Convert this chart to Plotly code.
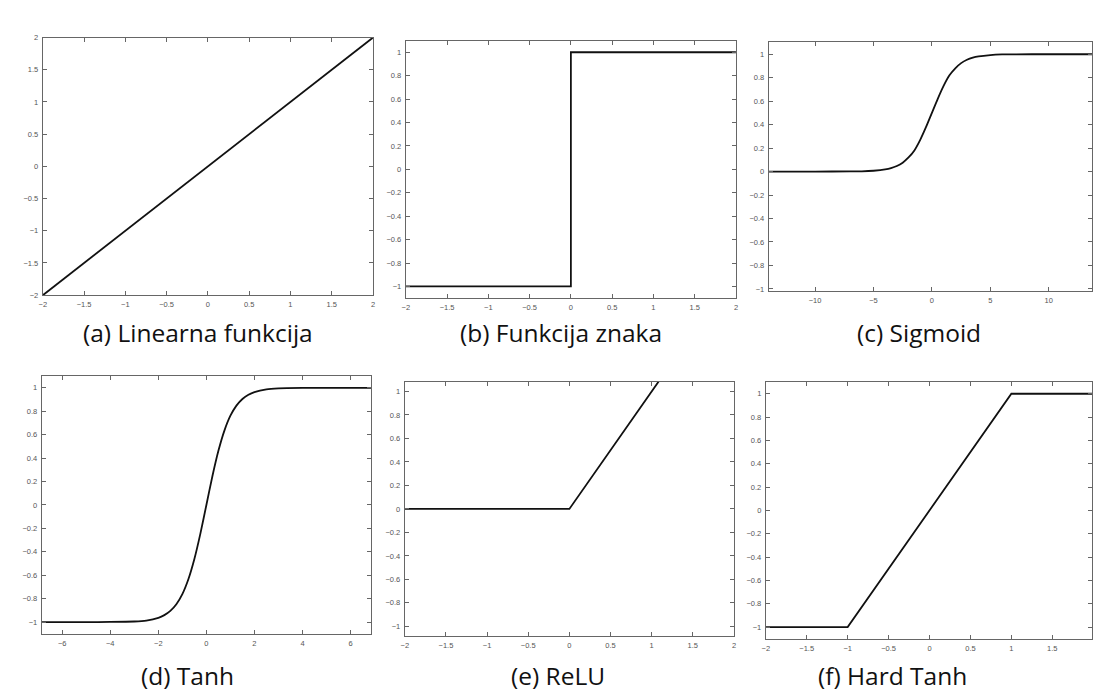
import plotly.graph_objects as go

W, H = 1094, 698

# ---------------- data ----------------
lin_x = [-2, 2]
lin_y = [-2, 2]

sign_x = [-2, 0, 0, 2]
sign_y = [-1, -1, 1, 1]

sig_x = [-14, -10, -7, -6, -5, -4, -3.5, -3, -2.5, -2, -1.5, -1, -0.5, 0, 0.5, 1, 1.5, 2, 2.5, 3, 3.5, 4, 5, 6, 7, 10, 14]
sig_y = [0, 0, 0.001, 0.002, 0.007, 0.018, 0.029, 0.047, 0.076, 0.12, 0.18, 0.27, 0.38, 0.5, 0.62, 0.73, 0.82, 0.88, 0.924, 0.953, 0.971, 0.982, 0.993, 0.998, 0.999, 1, 1]

tanh_x = [-7, -5, -4, -3, -2.5, -2, -1.75, -1.5, -1.25, -1, -0.75, -0.5, -0.25, 0, 0.25, 0.5, 0.75, 1, 1.25, 1.5, 1.75, 2, 2.5, 3, 4, 5, 7]
tanh_y = [-1, -1, -0.999, -0.995, -0.987, -0.964, -0.941, -0.905, -0.848, -0.762, -0.635, -0.462, -0.245, 0, 0.245, 0.462, 0.635, 0.762, 0.848, 0.905, 0.941, 0.964, 0.987, 0.995, 0.999, 1, 1]

relu_x = [-2, 0, 2]
relu_y = [0, 0, 2]

htanh_x = [-2, -1, 1, 2]
htanh_y = [-1, -1, 1, 1]

captions = ["(a) Linearna funkcija", "(b) Funkcija znaka", "(c) Sigmoid",
            "(d) Tanh", "(e) ReLU", "(f) Hard Tanh"]

half_ticks = [-2, -1.5, -1, -0.5, 0, 0.5, 1, 1.5, 2]
half_labels = ["\u22122", "\u22121.5", "\u22121", "\u22120.5", "0", "0.5", "1", "1.5", "2"]
fifth_ticks = [-1, -0.8, -0.6, -0.4, -0.2, 0, 0.2, 0.4, 0.6, 0.8, 1]
fifth_labels = ["\u22121", "\u22120.8", "\u22120.6", "\u22120.4", "\u22120.2", "0", "0.2", "0.4", "0.6", "0.8", "1"]
sig_ticks = [-10, -5, 0, 5, 10]
sig_labels = ["\u221210", "\u22125", "0", "5", "10"]
tanh_ticks = [-6, -4, -2, 0, 2, 4, 6]
tanh_labels = ["\u22126", "\u22124", "\u22122", "0", "2", "4", "6"]

series = [(lin_x, lin_y), (sign_x, sign_y), (sig_x, sig_y),
          (tanh_x, tanh_y), (relu_x, relu_y), (htanh_x, htanh_y)]

# ---------------- layout (pixel boxes of each panel) ----------------
panels = [
    dict(box=(39, 371, 34, 295), xr=[-2, 2], yr=[-2, 2],
         xt=(half_ticks, half_labels), yt=(half_ticks, half_labels), cap=(195, 333)),
    dict(box=(404, 736, 37, 298), xr=[-2, 2], yr=[-1.1, 1.1],
         xt=(half_ticks, half_labels), yt=(fifth_ticks, fifth_labels), cap=(560, 333)),
    dict(box=(769, 1094, 39, 291), xr=[-13.96, 13.7], yr=[-1.02, 1.1],
         xt=(sig_ticks, sig_labels), yt=(fifth_ticks, fifth_labels), cap=(920, 333)),
    dict(box=(38, 369, 377, 638), xr=[-6.85, 6.85], yr=[-1.1, 1.1],
         xt=(tanh_ticks, tanh_labels), yt=(fifth_ticks, fifth_labels), cap=(185, 680)),
    dict(box=(403, 734, 383, 640), xr=[-2, 2], yr=[-1.08, 1.08],
         xt=(half_ticks, half_labels), yt=(fifth_ticks, fifth_labels), cap=(557, 680)),
    dict(box=(766, 1094, 383, 643), xr=[-2, 1.985], yr=[-1.1, 1.1],
         xt=(half_ticks, half_labels), yt=(fifth_ticks, fifth_labels), cap=(893, 680)),
]

fig = go.Figure()
layout = {}
annotations = []
tickfont = dict(family="Liberation Sans, Arial", size=7.5, color="#555")
axis_common = dict(showgrid=False, zeroline=False, showline=True, linecolor="#666",
                   linewidth=1, mirror="ticks", ticks="inside", ticklen=4,
                   tickcolor="#666", tickwidth=1, tickfont=tickfont, fixedrange=True)

for i, (p, (xs, ys)) in enumerate(zip(panels, series)):
    n = "" if i == 0 else str(i + 1)
    x0, x1, y0, y1 = p["box"]
    layout["xaxis" + n] = dict(axis_common, domain=[x0 / W, x1 / W], range=p["xr"],
                               anchor="y" + n, tickmode="array",
                               tickvals=p["xt"][0], ticktext=p["xt"][1], ticklabelstandoff=2)
    layout["yaxis" + n] = dict(axis_common, domain=[1 - y1 / H, 1 - y0 / H], range=p["yr"],
                               anchor="x" + n, tickmode="array",
                               tickvals=p["yt"][0], ticktext=p["yt"][1], ticklabelstandoff=2)
    smooth = i in (2, 3)
    fig.add_trace(go.Scatter(x=xs, y=ys, mode="lines", xaxis="x" + n, yaxis="y" + n,
                             line=dict(color="#111", width=1.8, shape="spline", smoothing=0.6)
                             if smooth else dict(color="#111", width=1.8),
                             showlegend=False, hoverinfo="skip"))
    cx, cy = p["cap"]
    annotations.append(dict(text=captions[i], x=cx / W, y=1 - cy / H, xref="paper", yref="paper",
                            showarrow=False, xanchor="center", yanchor="middle",
                            font=dict(family="Open Sans, Lato", size=24.5, color="#111")))

fig.update_layout(**layout)
fig.update_layout(width=W, height=H, margin=dict(l=0, r=0, t=0, b=0),
                  paper_bgcolor="white", plot_bgcolor="white",
                  annotations=annotations, showlegend=False)

fig.write_html("out.html", config={"displayModeBar": False},
               post_script="document.body.style.margin='0';")
